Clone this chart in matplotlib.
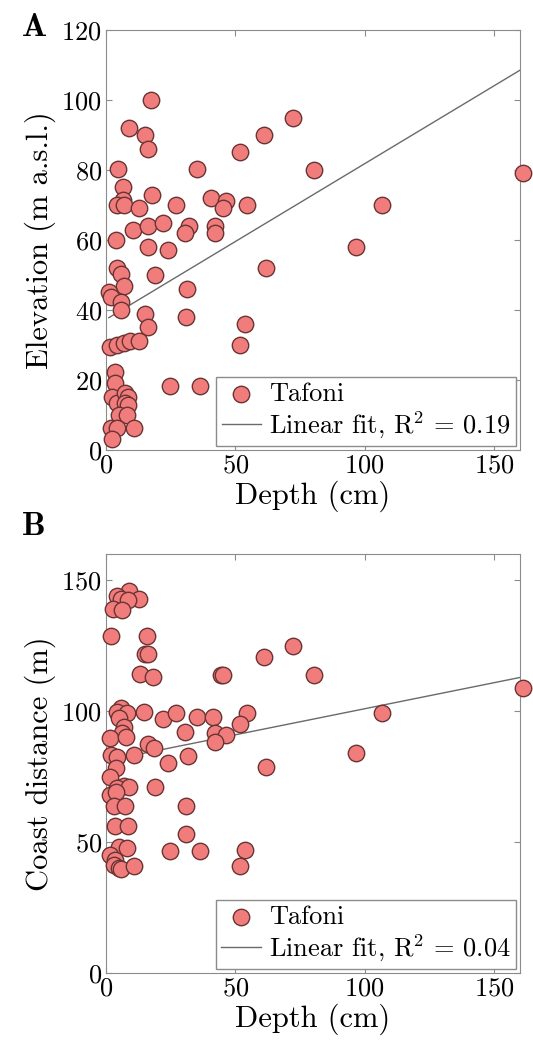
import numpy as np
import matplotlib
matplotlib.use("Agg")
import matplotlib.pyplot as plt

# depth (cm) / elevation (m a.s.l.)
depth_a = [17.2, 8.8, 14.9, 16.1, 4.7, 35.2, 6.5, 17.6, 6.5, 4.3, 7.0, 12.7, 27.2, 40.5,
           10.5, 16.1, 21.9, 3.7, 16.1, 24.0, 32.2, 30.4, 4.1, 5.9, 6.9, 18.8, 1.1, 2.0,
           5.9, 5.6, 31.3, 31.1, 15.0, 16.1, 1.7, 4.3, 6.9, 9.1, 12.7, 3.5, 3.5, 2.4,
           4.3, 7.5, 8.4, 7.3, 8.4, 4.9, 8.2, 2.0, 4.3, 10.7, 2.2, 24.9, 36.5, 72.1,
           60.9, 51.7, 80.2, 161.0, 46.5, 45.1, 54.5, 106.6, 42.3, 42.3, 96.6, 61.9,
           53.6, 51.7]
elevation = [100, 91.9, 90, 85.9, 80.2, 80.2, 75, 72.9, 71.4, 70, 70, 69, 70, 72,
             62.9, 64.1, 64.8, 60, 58.1, 57, 64.1, 61.9, 51.9, 50.2, 46.9, 50, 45.2, 43.8,
             42.4, 40, 46, 38.1, 38.9, 35.2, 29.4, 30, 30.5, 31.1, 31.2, 22.2, 19, 15,
             13.3, 16.2, 15.2, 13.3, 12.9, 10, 10, 6.2, 6.2, 6.2, 3.0, 18.3, 18.3, 94.9,
             90, 85, 80, 79, 71.2, 69, 70, 70, 64.1, 61.9, 58.1, 51.9,
             35.9, 30]

# depth (cm) / coast distance (m)
depth_b = [8.8, 4.3, 5.6, 12.7, 8.6, 2.8, 6.3, 2.1, 15.9, 14.9, 16.1, 13.1, 18.1,
           5.9, 4.3, 8.2, 4.9, 6.9, 6.3, 1.7, 7.9, 14.6, 22.1, 27.2, 35.2, 30.4,
           16.1, 18.5, 2.0, 4.3, 10.7, 24.0, 31.7, 3.7, 1.7, 6.9, 4.3, 8.8, 1.7, 3.7,
           18.8, 3.0, 7.5, 31.1, 3.3, 8.4, 31.1, 4.9, 8.2, 1.5, 3.3, 24.9, 36.5,
           3.0, 4.9, 5.9, 10.7, 72.1, 60.9, 44.5, 45.2, 80.2, 161.0, 41.2, 54.5,
           51.7, 106.6, 42.3, 46.5, 42.3, 96.6, 61.9, 53.6, 51.7]
coast_dist = [146, 144, 142.7, 142.7, 142.4, 138.9, 138.6, 128.7, 128.7, 121.8, 121.8, 114, 112.9,
              101.1, 99.8, 99.2, 97.3, 93.8, 91.8, 89.9, 90.2, 99.8, 96.9, 99.2, 97.9, 91.9,
              87.4, 85.8, 83.2, 82.6, 83.2, 80.1, 82.9, 78.2, 75, 71.4, 70.5, 70.9, 68, 69.2,
              70.9, 63.9, 63.9, 63.9, 56.1, 56.1, 53.1, 48.2, 47.6, 45.1, 43.1, 46.7, 46.7,
              41.2, 40, 39.6, 40.9, 124.9, 120.8, 113.9, 113.9, 113.9, 108.9, 97.9, 99.2,
              95.1, 99.2, 91.8, 90.9, 88.3, 83.9, 78.8, 47, 41]

# linear fits (slope, intercept) as shown in the figure
fit_a = (0.445, 37.3)
fit_b = (0.199, 81.0)
r2_labels = ["0.19", "0.04"]

plt.rcParams["font.family"] = "serif"
plt.rcParams["font.serif"] = ["cmr10"]
plt.rcParams["mathtext.fontset"] = "cm"
plt.rcParams["axes.formatter.use_mathtext"] = True

FACE = "#f07c7c"
EDGE = "#6b3434"
GREY = "#8c8c8c"
FS = 19

fig = plt.figure(figsize=(5.33, 10.54), dpi=100)
ax1 = fig.add_axes([0.1989, 0.5731, 0.7767, 0.3985])
ax2 = fig.add_axes([0.1989, 0.0769, 0.7767, 0.3975])


def draw_panel(ax, x, y, fit, r2, ylim, yticks, ylabel, tag, tag_y):
    x = np.asarray(x)
    ax.scatter(x, y, s=140, c=FACE, edgecolors=EDGE, linewidths=1.0,
               zorder=3, clip_on=False, label="Tafoni")
    xs = np.array([x.min(), x.max()])
    ax.plot(xs, fit[0] * xs + fit[1], color="#6a6a6a", lw=1.0, zorder=2,
            label=r"Linear fit, R$^2$ = " + r2)
    ax.set_xlim(0, 160)
    ax.set_ylim(*ylim)
    ax.set_xticks([0, 50, 100, 150])
    ax.set_yticks(yticks)
    ax.tick_params(direction="in", top=True, right=True, length=4,
                   color=GREY, labelsize=FS, pad=3)
    for sp in ax.spines.values():
        sp.set_color(GREY)
    ax.set_xlabel("Depth (cm)", fontsize=22, labelpad=2)
    ax.set_ylabel(ylabel, fontsize=22, labelpad=4)
    leg = ax.legend(loc="lower right", fontsize=FS, scatterpoints=1,
                    handlelength=1.5, handletextpad=0.3, borderpad=0.2,
                    labelspacing=0.15, fancybox=False, framealpha=1,
                    edgecolor=GREY, borderaxespad=0.15)
    leg.get_frame().set_linewidth(1.0)
    ax.text(-0.205, tag_y, r"$\mathbf{" + tag + "}$", transform=ax.transAxes,
            fontsize=24, ha="left", va="baseline")


draw_panel(ax1, depth_a, elevation, fit_a, r2_labels[0], (0, 120),
           [0, 20, 40, 60, 80, 100, 120], "Elevation (m a.s.l.)", "A", 0.985)
draw_panel(ax2, depth_b, coast_dist, fit_b, r2_labels[1], (0, 160),
           [0, 50, 100, 150], "Coast distance (m)", "B", 1.045)

fig.savefig("out.png", dpi=100)
